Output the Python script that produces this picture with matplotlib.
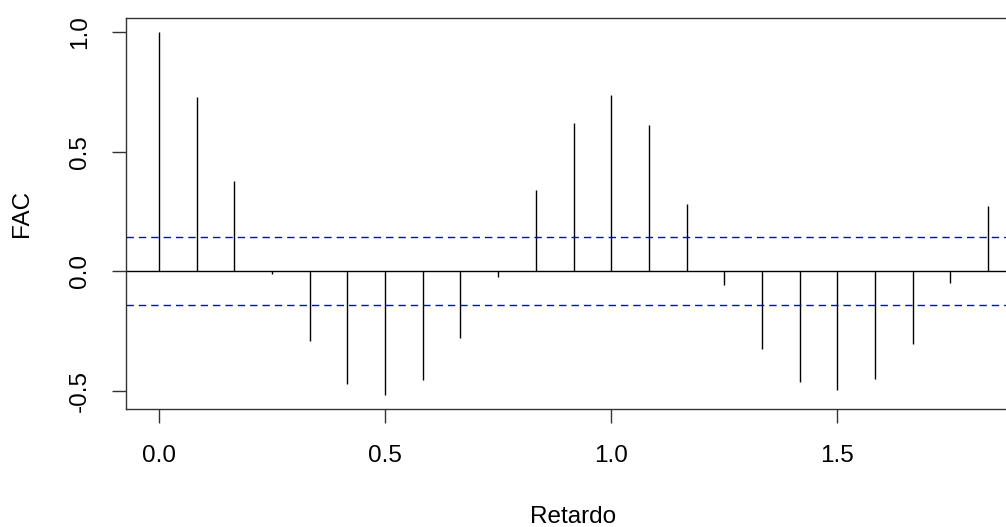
import matplotlib
matplotlib.use("Agg")
import matplotlib.pyplot as plt
import numpy as np

plt.rcParams['font.family'] = ['Liberation Sans', 'DejaVu Sans']

# monthly series, lag in years
lag = [i / 12 for i in range(23)]
fac = [1.0, 0.729, 0.377, -0.01, -0.293, -0.47, -0.516, -0.457, -0.279, -0.024,
       0.339, 0.622, 0.739, 0.614, 0.283, -0.056, -0.326, -0.464, -0.498, -0.452,
       -0.305, -0.05, 0.272]
ci = 0.142

fig = plt.figure(figsize=(10.06, 5.27), dpi=100)
ax = fig.add_axes([126 / 1006, (527 - 409) / 527, (1021 - 126) / 1006, (409 - 18) / 527])

ax.vlines(lag, 0, fac, color='black', lw=1.0)
ax.axhline(0, color='black', lw=1.0)
ax.axhline(ci, color='blue', lw=1.0, dashes=(5.3, 3.6))
ax.axhline(-ci, color='blue', lw=1.0, dashes=(5.3, 3.6))

rng = max(lag) - min(lag)
ax.set_xlim(-0.04 * rng, max(lag) + 0.04 * rng)
yr = 1.0 - min(fac)
ax.set_ylim(min(fac) - 0.04 * yr, 1.0 + 0.04 * yr)

ax.set_xticks([0.0, 0.5, 1.0, 1.5])
ax.set_xticklabels(['0.0', '0.5', '1.0', '1.5'])
ax.set_yticks([-0.5, 0.0, 0.5, 1.0])
ax.set_yticklabels(['-0.5', '0.0', '0.5', '1.0'], rotation=90, va='center')
ax.tick_params(labelsize=17.5, length=10, width=1.0, color='#333333')
ax.tick_params(axis='x', pad=16)
ax.tick_params(axis='y', pad=15)
for s in ax.spines.values():
    s.set_linewidth(1.0)
    s.set_color('#333333')

ax.set_xlabel('Retardo', fontsize=17.5, labelpad=28)
ax.set_ylabel('FAC', fontsize=17.5, labelpad=26)

fig.savefig('out.png', dpi=100)
